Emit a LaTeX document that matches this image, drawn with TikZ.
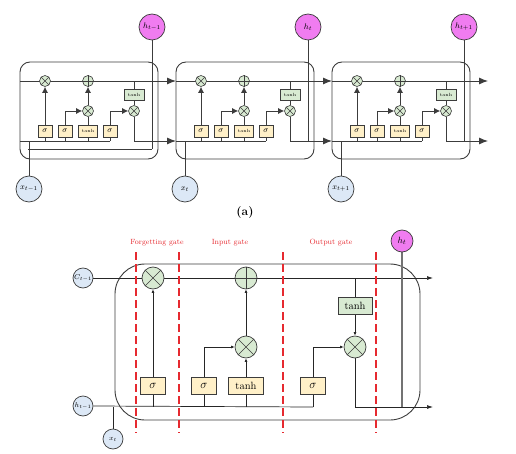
\documentclass[tikz,border=0pt]{standalone}
\usetikzlibrary{arrows.meta}
\definecolor{gfill}{HTML}{D8EAD2}
\definecolor{yfill}{HTML}{FFF0C8}
\definecolor{bfill}{HTML}{DCE8F6}
\definecolor{mfill}{HTML}{F07CF0}
\definecolor{rdash}{HTML}{E62A30}
\definecolor{ln}{HTML}{3C3C3C}
\pgfdeclarelayer{bg}
\pgfsetlayers{bg,main}
\newcommand\drawtimes[1]{\draw[ln,line width=0.6pt] (#1.north west)--(#1.south east) (#1.north east)--(#1.south west);}
\newcommand\drawplus[1]{\draw[ln,line width=0.6pt] (#1.north)--(#1.south) (#1.west)--(#1.east);}
\tikzset{
 op/.style={circle,draw=ln,fill=gfill,inner sep=0pt,minimum size=11pt,line width=0.6pt},
 bop/.style={circle,draw=ln,fill=gfill,inner sep=0pt,minimum size=22pt,line width=0.7pt},
 ybox/.style={draw=ln,fill=yfill,inner sep=0pt,minimum width=14pt,minimum height=12pt,line width=0.6pt,font=\fontsize{8}{8}\selectfont},
 tbox/.style={ybox,minimum width=19pt,font=\fontsize{4.5}{5}\selectfont},
 gbox/.style={ybox,fill=gfill,minimum width=20pt,minimum height=11pt,font=\fontsize{4.5}{5}\selectfont},
 hcirc/.style={circle,draw=ln,fill=mfill,inner sep=0pt,minimum size=26pt,line width=0.7pt,font=\fontsize{8.5}{8.5}\selectfont},
 xcirc/.style={circle,draw=ln,fill=bfill,inner sep=0pt,minimum size=26pt,line width=0.7pt,font=\fontsize{8.5}{8.5}\selectfont},
 cell/.style={draw=ln,rounded corners=10pt,line width=0.9pt},
 wire/.style={draw=ln,line width=0.9pt},
 bigarrow/.style={wire,-{Latex[length=9pt,width=7pt]}},
 midarrow/.style={wire,-{Latex[length=6pt,width=6pt]}},
 byb/.style={draw=ln,fill=yfill,inner sep=0pt,minimum width=25pt,minimum height=17pt,line width=0.7pt,font=\fontsize{12}{12}\selectfont},
 bgb/.style={byb,fill=gfill,minimum width=34pt,font=\fontsize{10.5}{10.5}\selectfont},
 bcirc/.style={circle,draw=ln,fill=bfill,inner sep=0pt,minimum size=20pt,line width=0.7pt,font=\fontsize{7}{7}\selectfont},
 bwire/.style={draw=black!85,line width=0.7pt},
 smallarrow/.style={bwire,-{Latex[length=3.5pt,width=3pt]}},
 endarrow/.style={bwire,-{Latex[length=6pt,width=4pt]}},
 gate/.style={draw=rdash,line width=1.1pt,dash pattern=on 8pt off 4pt},
 gatelabel/.style={text=rdash,font=\fontsize{7.5}{7.5}\selectfont},
}
\begin{document}
\begin{tikzpicture}[x=1pt,y=-1pt]
\useasboundingbox (0,0) rectangle (516,454);
% ---------------- top: unrolled chain ----------------
\foreach \i/\o/\s in {1/0/{t-1},2/156/t,3/312/{t+1}}{
 \begin{scope}[xshift=\o pt]
  \node[op] (fx\i) at (45,81) {};
  \node[op] (pl\i) at (88,81) {};
  \node[op] (ix\i) at (88,111) {};
  \node[op] (ox\i) at (134,111) {};
  \drawtimes{fx\i}\drawplus{pl\i}\drawtimes{ix\i}\drawtimes{ox\i}
  \node[gbox] (th\i) at (134,95) {tanh};
  \node[ybox] (sa\i) at (45,131) {$\sigma$};
  \node[ybox] (sb\i) at (65,131) {$\sigma$};
  \node[tbox] (tb\i) at (88,131) {tanh};
  \node[ybox] (sc\i) at (110,131) {$\sigma$};
  \node[hcirc] (h\i) at (152,27) {$h_{\s}$};
  \node[xcirc] (x\i) at (29,189) {$x_{\s}$};
  \coordinate (inT\i) at (20,81);
  \coordinate (inB\i) at (20,141);
  \coordinate (tipT\i) at (176,81);
  \coordinate (tipB\i) at (176,141);
  \begin{pgfonlayer}{bg}
   \draw[cell] (20,62) rectangle (158,159);
   \draw[bigarrow] (inT\i) -- (tipT\i);
   \draw[wire] (inB\i) -- (sc\i.south |- inB\i);
   \draw[wire] (x\i.north) -- (x\i.north |- inB\i);
   \draw[wire] (h\i.south) -- (h\i.south |- inB\i);
   \draw[wire] (sa\i.south) -- (sa\i.south |- inB\i);
   \draw[wire] (sb\i.south) -- (sb\i.south |- inB\i);
   \draw[wire] (tb\i.south) -- (tb\i.south |- inB\i);
   \draw[wire] (sc\i.south) -- (sc\i.south |- inB\i);
   \draw[bigarrow] (ox\i.south) |- (tipB\i);
   \draw[wire] (th\i.north) -- (th\i.north |- inT\i);
  \end{pgfonlayer}
  \draw[midarrow] (sa\i.north) -- (fx\i.south);
  \draw[midarrow] (sb\i.north) |- (ix\i.west);
  \draw[wire] (tb\i.north) -- (ix\i.south);
  \draw[midarrow] (ix\i.north) -- (pl\i.south);
  \draw[midarrow] (sc\i.north) |- (ox\i.west);
  \draw[wire] (th\i.south) -- (ox\i.north);
 \end{scope}
}
\begin{pgfonlayer}{bg}
 \coordinate (lowA) at (28,149);
 \draw[wire] (lowA) -- (h1.south |- lowA);
 \draw[wire] (h1.south) -- (h1.south |- lowA);
\end{pgfonlayer}
\node[font=\bfseries\fontsize{12}{12}\selectfont] (cap) at (245,213) {(a)};
% ---------------- bottom: single cell ----------------
\node[bcirc] (C) at (83,278) {$C_{t-1}$};
\node[bcirc] (hp) at (83,406) {$h_{t-1}$};
\node[bcirc] (xt) at (113,439) {$x_t$};
\node[circle,draw=ln,fill=mfill,inner sep=0pt,minimum size=22pt,line width=0.7pt,font=\fontsize{9.5}{9.5}\selectfont] (ht) at (402,241) {$h_t$};
\node[bop] (Bfx) at (153,278) {};
\node[bop] (Bpl) at (246,278) {};
\node[bop] (Bix) at (246,347) {};
\node[bop] (Box) at (355,347) {};
\drawtimes{Bfx}\drawplus{Bpl}\drawtimes{Bix}\drawtimes{Box}
\node[byb] (Bsf) at (153,386) {$\sigma$};
\node[byb] (Bsi) at (204,386) {$\sigma$};
\node[byb,minimum width=35pt,font=\fontsize{10.5}{10.5}\selectfont] (Btn) at (246,386) {tanh};
\node[byb] (Bso) at (313,386) {$\sigma$};
\node[bgb] (Bto) at (355,306) {tanh};
\coordinate (Cend) at (433,278);
\coordinate (Hend) at (433,407);
\coordinate (Hrow) at (0,407);
\coordinate (g1t) at (136,252); \coordinate (g1b) at (136,433);
\coordinate (g2t) at (179,252); \coordinate (g2b) at (179,433);
\coordinate (g3t) at (283,252); \coordinate (g3b) at (283,433);
\coordinate (g4t) at (376,252); \coordinate (g4b) at (376,433);
\begin{pgfonlayer}{bg}
 \draw[draw=ln,line width=0.9pt,rounded corners=30pt] (115,264) rectangle (420,420);
 \draw[endarrow] (C.east) -- (Cend);
 \draw[bwire] (hp.east) -- (Bso.south |- Hrow);
 \draw[bwire] (Bso.south |- Hrow) -- (Bso.south);
 \draw[bwire] (xt.north) -- (xt.north |- Hrow);
 \draw[bwire] (Bsf.south) -- (Bsf.south |- Hrow);
 \draw[bwire] (Bsi.south) -- (Bsi.south |- Hrow);
 \draw[bwire] (Btn.south) -- (Btn.south |- Hrow);
 \draw[endarrow] (Box.south) |- (Hend);
 \draw[draw=black!55,line width=1.6pt] (ht.south) -- (ht.south |- Hrow);
 \draw[bwire] (Bto.north) -- (Bto.north |- Cend);
\end{pgfonlayer}
\draw[gate] (g1t) -- (g1b);
\draw[gate] (g2t) -- (g2b);
\draw[gate] (g3t) -- (g3b);
\draw[gate] (g4t) -- (g4b);
\draw[smallarrow] (Bsf.north) -- (Bfx.south);
\draw[smallarrow] (Bsi.north) |- (Bix.west);
\draw[smallarrow] (Btn.north) -- (Bix.south);
\draw[smallarrow] (Bix.north) -- (Bpl.south);
\draw[smallarrow] (Bso.north) |- (Box.west);
\draw[smallarrow] (Bto.south) -- (Box.north);
\node[gatelabel] (gf) at (157,243) {Forgetting gate};
\node[gatelabel] (gi) at (230,243) {Input gate};
\node[gatelabel] (go) at (331,243) {Output gate};
\end{tikzpicture}
\end{document}
